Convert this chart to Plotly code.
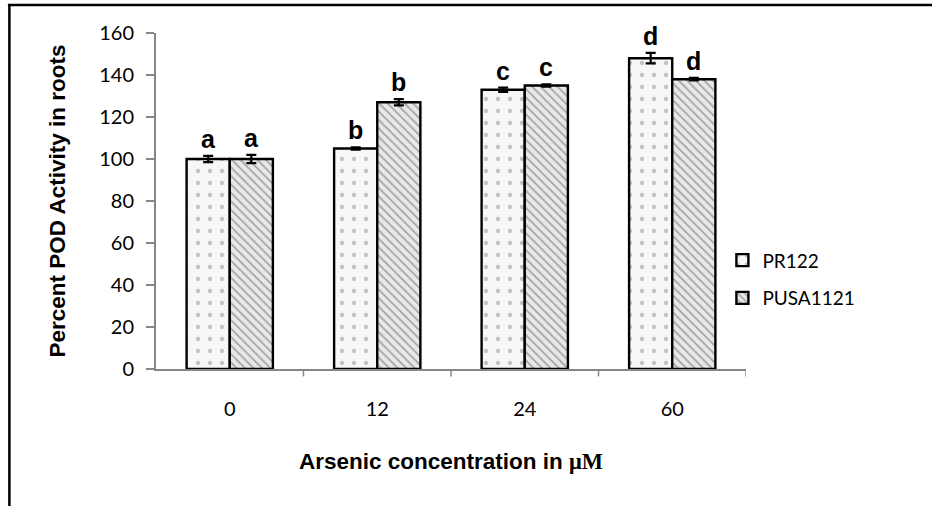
import plotly.graph_objects as go

categories = ["0", "12", "24", "60"]
pr122 = [100, 105, 133, 148]
pr122_err = [1.5, 0.6, 1.0, 2.5]
pusa1121 = [100, 127, 135, 138]
pusa1121_err = [2.0, 1.5, 0.5, 0.6]
pr122_letters = ["a", "b", "c", "d"]
pusa1121_letters = ["a", "b", "c", "d"]
y_ticks = [0, 20, 40, 60, 80, 100, 120, 140, 160]

LBL_FONT = "Lato, Open Sans, sans-serif"
BOLD_FONT = "Liberation Sans Narrow, Liberation Sans, Arial, sans-serif"

xpos = list(range(len(categories)))

fig = go.Figure()
fig.add_trace(go.Bar(
    name="PR122", x=xpos, y=pr122, legendgroup="g1",
    error_y=dict(type="data", array=pr122_err, color="black", thickness=2.2, width=5),
    marker=dict(color="#f7f7f7", line=dict(color="black", width=2.4),
                pattern=dict(shape=".", fgcolor="#8a8a8a", bgcolor="#f7f7f7", size=12, solidity=0.1)),
))
fig.add_trace(go.Bar(
    name="PUSA1121", x=xpos, y=pusa1121, legendgroup="g2",
    error_y=dict(type="data", array=pusa1121_err, color="black", thickness=2.2, width=5),
    marker=dict(color="#dcdcdc", line=dict(color="black", width=2.4),
                pattern=dict(shape="\\", fgcolor="#5e5e5e", bgcolor="#e8e8e8", size=6, solidity=0.3)),
))

for i in xpos:
    fig.add_annotation(x=i, y=pr122[i] + pr122_err[i], text="<b>%s</b>" % pr122_letters[i],
                       xref="x", yref="y", showarrow=False, xshift=-21.5, yanchor="bottom", yshift=1,
                       font=dict(family="Liberation Sans, Arial", size=25, color="black"))
    fig.add_annotation(x=i, y=pusa1121[i] + pusa1121_err[i], text="<b>%s</b>" % pusa1121_letters[i],
                       xref="x", yref="y", showarrow=False, xshift=21.5, yanchor="bottom", yshift=1,
                       font=dict(family="Liberation Sans, Arial", size=25, color="black"))

# axis titles
fig.add_annotation(x=0.5, y=-0.275, xref="paper", yref="paper", showarrow=False, yanchor="middle",
                   text="<b>Arsenic concentration in </b><span style='font-family:Liberation Serif, Times New Roman, serif'><b>μM</b></span>",
                   font=dict(family=BOLD_FONT, size=22.5, color="black"))
fig.add_annotation(x=-0.167, y=0.5, xref="paper", yref="paper", showarrow=False, textangle=-90,
                   xanchor="center", yanchor="middle",
                   text="<b>Percent POD Activity in roots</b>",
                   font=dict(family=BOLD_FONT, size=22.5, color="black"))

# outer frame (top and left)
fig.add_shape(type="line", xref="paper", yref="paper", x0=-0.251, x1=1.35, y0=1.0835, y1=1.0835,
              line=dict(color="black", width=2.5))
fig.add_shape(type="line", xref="paper", yref="paper", x0=-0.2485, x1=-0.2485, y0=1.0835, y1=-0.45,
              line=dict(color="black", width=2.5))

fig.update_layout(
    width=932, height=506,
    margin=dict(l=156, r=186, t=33, b=137),
    paper_bgcolor="white", plot_bgcolor="white",
    barmode="group", bargap=0.415, bargroupgap=0,
    showlegend=True,
    legend=dict(x=0.96, y=0.38, xanchor="left", yanchor="top", bgcolor="rgba(0,0,0,0)",
                font=dict(family=LBL_FONT, size=19, color="black"),
                tracegroupgap=10, itemwidth=30),
    xaxis=dict(range=[-0.5, len(categories) - 0.5], tickvals=xpos, ticktext=categories,
               showline=True, linecolor="#868686", linewidth=2, ticks="", zeroline=False,
               tickfont=dict(family=LBL_FONT, size=20, color="black"), showgrid=False,
               ticklabelstandoff=21),
    yaxis=dict(range=[0, 160], tickvals=y_ticks, showline=True, linecolor="#868686", linewidth=2,
               ticks="outside", ticklen=8, tickcolor="#868686", tickwidth=1.5, showgrid=False,
               zeroline=False, tickfont=dict(family=LBL_FONT, size=20, color="black"), ticklabelstandoff=8),
)

# category boundary tick marks on x axis
for k in xpos:
    fig.add_shape(type="line", xref="x", yref="paper", x0=k + 0.5, x1=k + 0.5, y0=0, y1=-0.022,
                  line=dict(color="#868686", width=1.5))

fig.write_html("out.html")
